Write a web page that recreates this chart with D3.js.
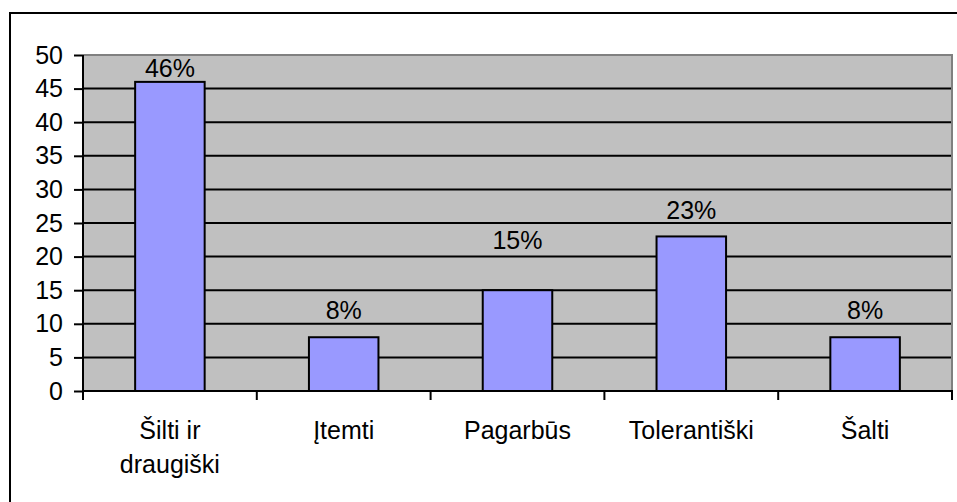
<!DOCTYPE html>
<html>
<head>
<meta charset="utf-8">
<script src="https://cdn.jsdelivr.net/npm/d3@7"></script>
<style>
  html, body { margin: 0; padding: 0; background: #fff; }
  svg { display: block; font-family: "Liberation Sans", Arial, sans-serif; }
</style>
</head>
<body>
<div class="chart"></div>
<script>
// data
var categories = ["Šilti ir draugiški", "Įtemti", "Pagarbūs", "Tolerantiški", "Šalti"];
var values = [46, 8, 15, 23, 8];
var percentLabels = ["46%", "8%", "15%", "23%", "8%"];
var yTicks = [0, 5, 10, 15, 20, 25, 30, 35, 40, 45, 50];

document.addEventListener("DOMContentLoaded", function () {
    var w = 957, h = 502;
    var left = 83, right = 952, top = 55, bottom = 391;
    var fs = 25;

    var svg = d3.select(".chart")
        .append("svg")
        .attr("width", w)
        .attr("height", h);

    // outer frame (runs off right/bottom edge)
    svg.append("rect")
        .attr("x", 10).attr("y", 13)
        .attr("width", w + 10).attr("height", h + 10)
        .attr("fill", "#fff")
        .attr("stroke", "#000")
        .attr("stroke-width", 2);

    var x = d3.scaleBand()
        .domain(categories)
        .range([left, right])
        .padding(0);

    var y = d3.scaleLinear()
        .domain([0, 50])
        .range([bottom, top]);

    // plot area
    svg.append("rect")
        .attr("x", left).attr("y", top)
        .attr("width", right - left).attr("height", bottom - top)
        .attr("fill", "#c0c0c0");

    // gridlines
    svg.append("g")
        .selectAll("line")
        .data(yTicks.filter(function (d) { return d > 0 && d < 50; }))
        .enter()
        .append("line")
        .attr("x1", left).attr("x2", right)
        .attr("y1", function (d) { return y(d); })
        .attr("y2", function (d) { return y(d); })
        .attr("stroke", "#000")
        .attr("stroke-width", 2);

    // plot border top/right
    svg.append("path")
        .attr("d", "M" + left + "," + top + "H" + right + "V" + bottom)
        .attr("fill", "none")
        .attr("stroke", "#808080")
        .attr("stroke-width", 2);

    // bars
    var bw = x.bandwidth() * 0.4;
    svg.append("g")
        .selectAll("rect")
        .data(values)
        .enter()
        .append("rect")
        .attr("x", function (d, i) { return x(categories[i]) + (x.bandwidth() - bw) / 2; })
        .attr("y", function (d) { return y(d); })
        .attr("width", bw)
        .attr("height", function (d) { return y(0) - y(d); })
        .attr("fill", "#9999ff")
        .attr("stroke", "#000")
        .attr("stroke-width", 2);

    // percent labels (placed by hand in the original)
    var labelAt = [46.7, 10.7, 21.1, 25.6, 10.7];
    svg.append("g")
        .selectAll("text")
        .data(percentLabels)
        .enter()
        .append("text")
        .attr("x", function (d, i) { return x(categories[i]) + x.bandwidth() / 2; })
        .attr("y", function (d, i) { return y(labelAt[i]); })
        .attr("text-anchor", "middle")
        .attr("font-size", fs)
        .attr("fill", "#000")
        .text(function (d) { return d; });

    // y axis
    var yAxis = svg.append("g")
        .attr("transform", "translate(" + left + ",0)")
        .call(d3.axisLeft(y).tickValues(yTicks).tickSize(9).tickPadding(11));
    yAxis.selectAll("text").attr("font-size", fs).attr("fill", "#000")
        .attr("font-family", "Liberation Sans, Arial, sans-serif");
    yAxis.selectAll("line").attr("stroke", "#000").attr("stroke-width", 2);
    yAxis.select(".domain").attr("d", "M0," + top + "V" + bottom)
        .attr("stroke", "#000").attr("stroke-width", 2);

    // x axis
    svg.append("line")
        .attr("x1", left - 1).attr("x2", right + 1)
        .attr("y1", bottom).attr("y2", bottom)
        .attr("stroke", "#000").attr("stroke-width", 2);
    var bounds = categories.map(function (c) { return x(c); }).concat([right]);
    svg.append("g")
        .selectAll("line")
        .data(bounds)
        .enter()
        .append("line")
        .attr("x1", function (d) { return d; }).attr("x2", function (d) { return d; })
        .attr("y1", bottom).attr("y2", bottom + 9)
        .attr("stroke", "#000").attr("stroke-width", 2);

    // category labels, wrapped like the original
    var lines = {"Šilti ir draugiški": ["Šilti ir", "draugiški"]};
    var xl = svg.append("g")
        .selectAll("text")
        .data(categories)
        .enter()
        .append("text")
        .attr("text-anchor", "middle")
        .attr("font-size", fs)
        .attr("fill", "#000");
    xl.each(function (c) {
        var parts = lines[c] || [c];
        var t = d3.select(this);
        parts.forEach(function (p, j) {
            t.append("tspan")
                .attr("x", x(c) + x.bandwidth() / 2)
                .attr("y", 439 + j * 34)
                .text(p);
        });
    });
});
</script>
</body>
</html>
